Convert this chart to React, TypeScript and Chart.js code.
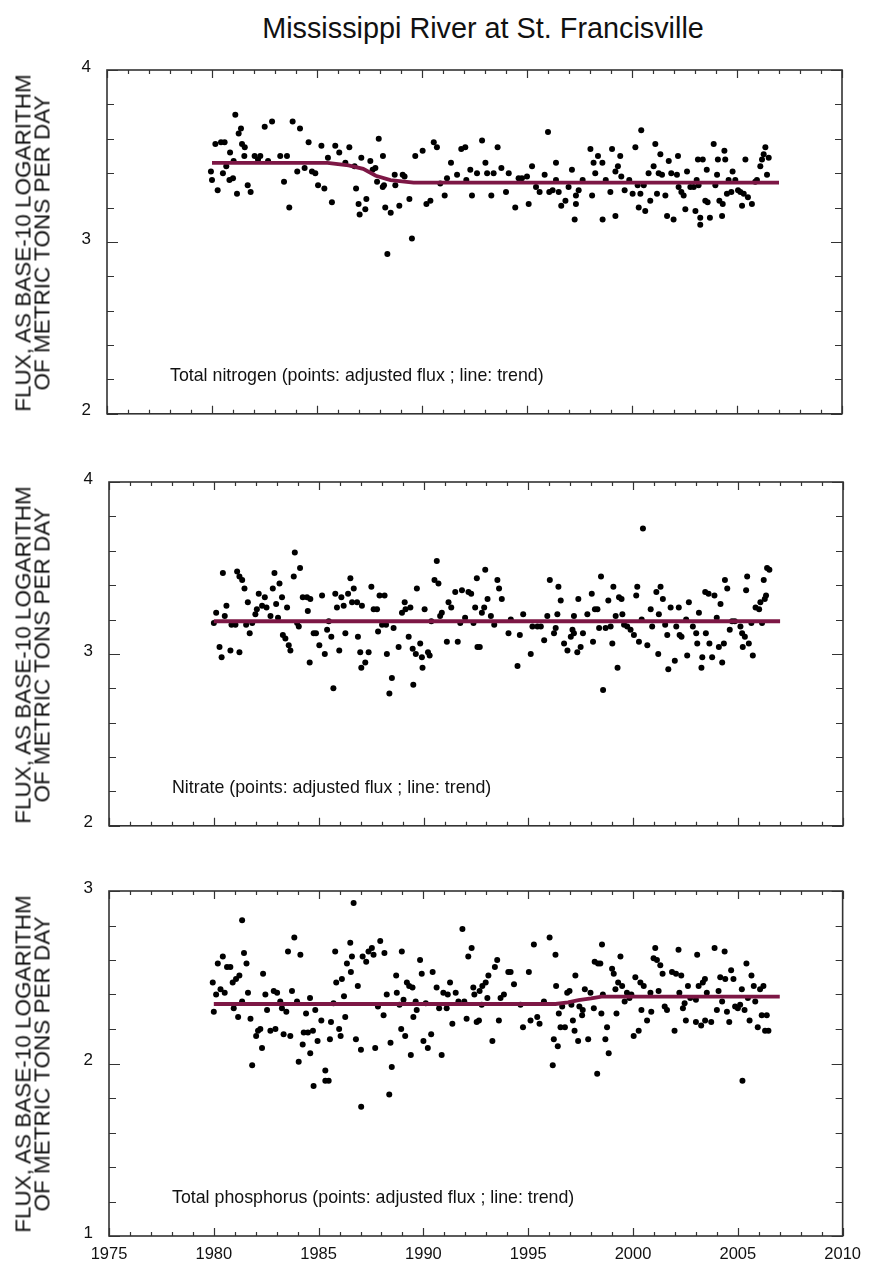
import React, { useEffect, useRef } from 'react';
import { Chart, registerables } from 'chart.js';

Chart.register(...registerables);

const TITLE = 'Mississippi River at St. Francisville';
const Y_TITLE = ['FLUX, AS BASE-10 LOGARITHM', 'OF METRIC TONS PER DAY'];
const X_MIN = 1975;
const X_MAX = 2010;
const X_STEP = 5;

const TN_NOTE = 'Total nitrogen (points: adjusted flux ; line: trend)';
const NO3_NOTE = 'Nitrate (points: adjusted flux ; line: trend)';
const TP_NOTE = 'Total phosphorus (points: adjusted flux ; line: trend)';

// ---------- Total nitrogen ----------
const tnYears = [
  1979.95, 1980.0, 1980.16, 1980.27, 1980.43, 1980.52, 1980.6, 1980.68, 1980.83, 1980.86,
  1981.0, 1981.03, 1981.11, 1981.19, 1981.27, 1981.38, 1981.43, 1981.54, 1981.56, 1981.7,
  1981.84, 1982.03, 1982.19, 1982.3, 1982.51, 1982.67, 1982.86, 1983.25, 1983.43, 1983.57,
  1983.68, 1983.84, 1984.06, 1984.19, 1984.41, 1984.6, 1984.76, 1984.92, 1985.05, 1985.21,
  1985.35, 1985.52, 1985.71, 1985.87, 1986.06, 1986.35, 1986.54, 1986.79, 1986.86, 1986.98,
  1987.03, 1987.11, 1987.3, 1987.35, 1987.54, 1987.65, 1987.78, 1987.86, 1987.94, 1988.13,
  1988.14, 1988.19, 1988.25, 1988.35, 1988.51, 1988.7, 1988.73, 1988.92, 1989.08, 1989.17,
  1989.4, 1989.52, 1989.68, 1990.03, 1990.21, 1990.4, 1990.56, 1990.71, 1990.87, 1991.08,
  1991.19, 1991.38, 1991.67, 1991.87, 1992.06, 1992.11, 1992.3, 1992.38, 1992.62, 1992.86,
  1993.02, 1993.1, 1993.3, 1993.41, 1993.6, 1993.78, 1994.0, 1994.13, 1994.44, 1994.6,
  1994.76, 1995.0, 1995.08, 1995.24, 1995.43, 1995.6, 1995.84, 1996.0, 1996.06, 1996.22,
  1996.38, 1996.38, 1996.51, 1996.63, 1996.83, 1996.98, 1997.14, 1997.27, 1997.33, 1997.33,
  1997.46, 1997.65, 1998.02, 1998.1, 1998.17, 1998.25, 1998.38, 1998.59, 1998.6, 1998.75,
  1998.97, 1999.05, 1999.21, 1999.21, 1999.33, 1999.44, 1999.49, 1999.65, 1999.87, 2000.03,
  2000.16, 2000.27, 2000.32, 2000.4, 2000.44, 2000.56, 2000.63, 2000.79, 2000.87, 2001.03,
  2001.11, 2001.19, 2001.27, 2001.35, 2001.43, 2001.59, 2001.67, 2001.75, 2001.87, 2001.98,
  2002.14, 2002.19, 2002.22, 2002.35, 2002.46, 2002.54, 2002.62, 2002.78, 2002.94, 2003.02,
  2003.08, 2003.14, 2003.17, 2003.25, 2003.25, 2003.37, 2003.49, 2003.56, 2003.6, 2003.71,
  2003.89, 2003.97, 2004.05, 2004.09, 2004.16, 2004.29, 2004.32, 2004.4, 2004.44, 2004.52,
  2004.6, 2004.73, 2004.79, 2004.92, 2005.05, 2005.16, 2005.24, 2005.32, 2005.4, 2005.52,
  2005.71, 2005.87, 2005.95, 2006.11, 2006.19, 2006.27, 2006.35, 2006.43, 2006.51,
];
const tnValues = [
  3.41, 3.36, 3.57, 3.30, 3.58, 3.40, 3.58, 3.44, 3.36, 3.52,
  3.37, 3.47, 3.74, 3.28, 3.63, 3.66, 3.57, 3.50, 3.55, 3.33,
  3.29, 3.50, 3.48, 3.50, 3.67, 3.47, 3.70, 3.50, 3.35, 3.50,
  3.20, 3.70, 3.41, 3.66, 3.43, 3.58, 3.41, 3.40, 3.33, 3.56,
  3.31, 3.49, 3.23, 3.56, 3.52, 3.46, 3.55, 3.44, 3.31, 3.22,
  3.16, 3.49, 3.19, 3.25, 3.47, 3.42, 3.43, 3.35, 3.60, 3.32,
  3.50, 3.33, 3.20, 2.93, 3.17, 3.39, 3.33, 3.21, 3.39, 3.38,
  3.25, 3.02, 3.50, 3.53, 3.22, 3.24, 3.58, 3.55, 3.34, 3.27,
  3.37, 3.46, 3.39, 3.54, 3.55, 3.36, 3.42, 3.27, 3.40, 3.59,
  3.46, 3.40, 3.27, 3.40, 3.55, 3.43, 3.29, 3.40, 3.20, 3.37,
  3.37, 3.38, 3.22, 3.44, 3.32, 3.29, 3.39, 3.64, 3.29, 3.30,
  3.46, 3.36, 3.29, 3.21, 3.24, 3.32, 3.42, 3.13, 3.27, 3.22,
  3.30, 3.36, 3.54, 3.27, 3.46, 3.40, 3.50, 3.46, 3.13, 3.36,
  3.29, 3.54, 3.15, 3.41, 3.44, 3.50, 3.38, 3.30, 3.36, 3.28,
  3.55, 3.33, 3.20, 3.28, 3.65, 3.33, 3.18, 3.40, 3.24, 3.44,
  3.57, 3.28, 3.40, 3.51, 3.39, 3.27, 3.15, 3.47, 3.40, 3.13,
  3.39, 3.50, 3.32, 3.29, 3.27, 3.19, 3.41, 3.32, 3.32, 3.18,
  3.36, 3.48, 3.33, 3.14, 3.10, 3.48, 3.24, 3.42, 3.23, 3.14,
  3.57, 3.33, 3.39, 3.48, 3.24, 3.15, 3.22, 3.53, 3.48, 3.28,
  3.36, 3.29, 3.41, 3.36, 3.30, 3.29, 3.21, 3.28, 3.48, 3.26,
  3.22, 3.35, 3.36, 3.44, 3.48, 3.51, 3.55, 3.39, 3.49,
];
const tnTrendYears = [1980, 1985.5, 1986.5, 1987.2, 1987.8, 1988.5, 1989.6, 2007];
const tnTrendValues = [3.46, 3.46, 3.445, 3.425, 3.385, 3.36, 3.345, 3.345];

// ---------- Nitrate ----------
const no3Years = [
  1980.0, 1980.11, 1980.27, 1980.37, 1980.43, 1980.52, 1980.6, 1980.79, 1980.84, 1981.03,
  1981.11, 1981.22, 1981.22, 1981.35, 1981.46, 1981.54, 1981.62, 1981.71, 1981.83, 1981.98,
  1982.05, 1982.14, 1982.3, 1982.43, 1982.51, 1982.7, 1982.81, 1982.89, 1982.97, 1983.06,
  1983.13, 1983.25, 1983.29, 1983.41, 1983.49, 1983.57, 1983.65, 1983.81, 1983.86, 1983.97,
  1984.05, 1984.11, 1984.24, 1984.44, 1984.48, 1984.57, 1984.6, 1984.76, 1984.87, 1985.03,
  1985.16, 1985.29, 1985.4, 1985.48, 1985.6, 1985.7, 1985.79, 1985.87, 1985.98, 1986.08,
  1986.19, 1986.27, 1986.4, 1986.51, 1986.59, 1986.67, 1986.83, 1986.87, 1986.98, 1987.03,
  1987.06, 1987.22, 1987.38, 1987.51, 1987.62, 1987.78, 1987.83, 1987.9, 1988.02, 1988.14,
  1988.21, 1988.25, 1988.37, 1988.49, 1988.57, 1988.81, 1988.97, 1989.1, 1989.14, 1989.29,
  1989.37, 1989.48, 1989.51, 1989.63, 1989.68, 1989.84, 1989.92, 1989.95, 1990.05, 1990.21,
  1990.29, 1990.37, 1990.52, 1990.63, 1990.71, 1990.79, 1990.87, 1991.11, 1991.19, 1991.32,
  1991.51, 1991.63, 1991.75, 1991.83, 1991.98, 1992.14, 1992.27, 1992.38, 1992.46, 1992.54,
  1992.57, 1992.68, 1992.78, 1992.89, 1992.94, 1993.05, 1993.21, 1993.37, 1993.52, 1993.6,
  1993.73, 1994.05, 1994.16, 1994.48, 1994.59, 1994.75, 1995.11, 1995.19, 1995.43, 1995.59,
  1995.75, 1995.9, 1996.02, 1996.22, 1996.3, 1996.38, 1996.43, 1996.54, 1996.7, 1996.86,
  1997.02, 1997.1, 1997.17, 1997.17, 1997.33, 1997.38, 1997.49, 1997.6, 1997.81, 1998.02,
  1998.08, 1998.17, 1998.29, 1998.37, 1998.46, 1998.56, 1998.68, 1998.81, 1998.92, 1999.0,
  1999.05, 1999.16, 1999.25, 1999.32, 1999.44, 1999.48, 1999.56, 1999.71, 1999.87, 2000.03,
  2000.14, 2000.19, 2000.27, 2000.4, 2000.46, 2000.67, 2000.83, 2000.9, 2001.1, 2001.19,
  2001.22, 2001.3, 2001.41, 2001.52, 2001.62, 2001.67, 2001.78, 2001.98, 2002.05, 2002.17,
  2002.21, 2002.3, 2002.52, 2002.57, 2002.65, 2002.84, 2003.0, 2003.05, 2003.13, 2003.25,
  2003.29, 2003.43, 2003.46, 2003.59, 2003.63, 2003.76, 2003.87, 2003.98, 2004.08, 2004.16,
  2004.24, 2004.32, 2004.37, 2004.48, 2004.6, 2004.71, 2004.84, 2005.11, 2005.19, 2005.22,
  2005.32, 2005.38, 2005.43, 2005.51, 2005.63, 2005.7, 2005.83, 2006.0, 2006.06, 2006.14,
  2006.22, 2006.27, 2006.33, 2006.38, 2006.49,
];
const no3Values = [
  3.18, 3.24, 3.04, 2.98, 3.47, 3.22, 3.28, 3.02, 3.17, 3.17,
  3.48, 3.45, 3.01, 3.43, 3.38, 3.17, 3.30, 3.12, 3.18, 3.23,
  3.26, 3.35, 3.28, 3.33, 3.27, 3.22, 3.38, 3.47, 3.29, 3.21,
  3.41, 3.33, 3.11, 3.09, 3.27, 3.05, 3.02, 3.45, 3.59, 3.18,
  3.16, 3.50, 3.33, 3.33, 3.25, 2.95, 3.32, 3.12, 3.12, 3.05,
  3.34, 3.00, 3.14, 3.19, 3.10, 2.80, 3.35, 3.27, 3.02, 3.33,
  3.28, 3.12, 3.35, 3.44, 3.30, 3.38, 3.30, 3.10, 3.01, 2.92,
  3.28, 2.95, 3.01, 3.39, 3.26, 3.26, 3.13, 3.34, 3.17, 3.34,
  3.17, 3.00, 2.77, 2.86, 3.15, 3.04, 3.24, 3.30, 3.26, 3.10,
  3.27, 3.03, 2.82, 3.00, 3.38, 3.06, 2.98, 2.92, 3.26, 3.01,
  2.99, 3.19, 3.43, 3.54, 3.41, 3.22, 3.24, 3.07, 3.30, 3.27,
  3.36, 3.07, 3.18, 3.37, 3.21, 3.36, 3.35, 3.18, 3.27, 3.44,
  3.04, 3.04, 3.24, 3.27, 3.49, 3.32, 3.22, 3.17, 3.43, 3.38,
  3.32, 3.12, 3.20, 2.93, 3.11, 3.23, 3.00, 3.16, 3.16, 3.16,
  3.08, 3.22, 3.43, 3.12, 3.15, 3.23, 3.39, 3.31, 3.06, 3.02,
  3.10, 3.14, 3.22, 3.12, 3.01, 3.32, 3.04, 3.12, 3.23, 3.35,
  3.07, 3.26, 3.26, 3.15, 3.45, 2.79, 3.15, 3.31, 3.16, 3.06,
  3.39, 3.22, 2.92, 3.33, 3.32, 3.23, 3.17, 3.16, 3.14, 3.11,
  3.34, 3.39, 3.07, 3.20, 3.73, 3.05, 3.26, 3.16, 3.36, 3.00,
  3.23, 3.39, 3.32, 3.17, 3.11, 2.91, 3.27, 2.96, 3.16, 3.27,
  3.11, 3.10, 3.20, 2.99, 3.30, 3.16, 3.12, 3.06, 3.24, 2.92,
  2.98, 3.36, 3.12, 3.35, 3.06, 2.98, 3.34, 3.21, 3.04, 3.29,
  2.95, 3.06, 3.43, 3.38, 3.14, 3.19, 3.19, 3.16, 3.12, 3.04,
  3.10, 3.37, 3.45, 3.06, 3.18, 2.99, 3.27, 3.26, 3.30, 3.18,
  3.43, 3.32, 3.34, 3.50, 3.49,
];
const no3TrendYears = [1980, 2007];
const no3TrendValues = [3.19, 3.19];

// ---------- Total phosphorus ----------
const tpYears = [
  1979.95, 1980.0, 1980.11, 1980.19, 1980.32, 1980.43, 1980.52, 1980.63, 1980.79, 1980.9,
  1980.95, 1981.06, 1981.16, 1981.22, 1981.35, 1981.35, 1981.44, 1981.56, 1981.63, 1981.75,
  1981.83, 1982.02, 1982.11, 1982.22, 1982.3, 1982.35, 1982.46, 1982.54, 1982.7, 1982.86,
  1982.94, 1983.02, 1983.17, 1983.25, 1983.33, 1983.46, 1983.54, 1983.65, 1983.73, 1983.84,
  1983.97, 1984.05, 1984.13, 1984.24, 1984.29, 1984.4, 1984.49, 1984.59, 1984.6, 1984.73,
  1984.76, 1984.84, 1984.95, 1985.13, 1985.32, 1985.32, 1985.48, 1985.54, 1985.59, 1985.71,
  1985.79, 1985.84, 1985.98, 1986.05, 1986.11, 1986.21, 1986.27, 1986.35, 1986.51, 1986.54,
  1986.59, 1986.67, 1986.78, 1986.87, 1987.02, 1987.03, 1987.1, 1987.27, 1987.38, 1987.54,
  1987.62, 1987.7, 1987.83, 1987.94, 1988.1, 1988.14, 1988.25, 1988.37, 1988.43, 1988.49,
  1988.7, 1988.73, 1988.86, 1988.94, 1988.97, 1989.05, 1989.13, 1989.21, 1989.32, 1989.4,
  1989.48, 1989.52, 1989.63, 1989.68, 1989.84, 1989.92, 1990.0, 1990.11, 1990.21, 1990.37,
  1990.44, 1990.63, 1990.75, 1990.87, 1990.95, 1991.11, 1991.16, 1991.27, 1991.38, 1991.54,
  1991.67, 1991.86, 1991.95, 1992.06, 1992.14, 1992.3, 1992.38, 1992.43, 1992.54, 1992.65,
  1992.68, 1992.78, 1992.81, 1992.97, 1993.05, 1993.1, 1993.29, 1993.41, 1993.52, 1993.6,
  1993.68, 1993.84, 1994.05, 1994.16, 1994.32, 1994.63, 1994.75, 1995.03, 1995.11, 1995.27,
  1995.43, 1995.54, 1995.75, 1996.02, 1996.17, 1996.22, 1996.3, 1996.33, 1996.41, 1996.46,
  1996.54, 1996.62, 1996.75, 1996.86, 1996.97, 1997.06, 1997.13, 1997.21, 1997.25, 1997.38,
  1997.44, 1997.57, 1997.6, 1997.7, 1997.86, 1997.97, 1998.13, 1998.17, 1998.29, 1998.33,
  1998.44, 1998.49, 1998.52, 1998.56, 1998.68, 1998.76, 1998.84, 1999.0, 1999.08, 1999.16,
  1999.21, 1999.29, 1999.4, 1999.48, 1999.6, 1999.71, 1999.83, 1999.92, 2000.03, 2000.11,
  2000.27, 2000.35, 2000.4, 2000.51, 2000.67, 2000.83, 2000.87, 2000.98, 2001.06, 2001.14,
  2001.22, 2001.3, 2001.41, 2001.51, 2001.62, 2001.86, 2001.98, 2002.05, 2002.17, 2002.21,
  2002.3, 2002.38, 2002.46, 2002.52, 2002.62, 2002.73, 2003.0, 2003.0, 2003.06, 2003.13,
  2003.25, 2003.33, 2003.43, 2003.44, 2003.52, 2003.73, 2003.89, 2004.0, 2004.08, 2004.16,
  2004.25, 2004.37, 2004.4, 2004.48, 2004.59, 2004.68, 2004.79, 2004.87, 2005.0, 2005.11,
  2005.19, 2005.22, 2005.32, 2005.41, 2005.48, 2005.56, 2005.65, 2005.76, 2005.83, 2005.95,
  2006.06, 2006.14, 2006.22, 2006.3, 2006.38, 2006.46,
];
const tpValues = [
  2.47, 2.30, 2.40, 2.58, 2.43, 2.62, 2.41, 2.56, 2.56, 2.47,
  2.32, 2.49, 2.27, 2.51, 2.36, 2.83, 2.64, 2.58, 2.41, 2.26,
  1.99, 2.16, 2.19, 2.20, 2.09, 2.52, 2.40, 2.31, 2.19, 2.42,
  2.20, 2.41, 2.36, 2.32, 2.17, 2.30, 2.65, 2.16, 2.42, 2.73,
  2.36, 2.01, 2.63, 2.11, 2.18, 2.29, 2.18, 2.38, 2.06, 2.19,
  1.87, 2.31, 2.13, 2.25, 1.96, 1.90, 1.90, 2.14, 2.24, 2.35,
  2.65, 2.47, 2.20, 2.16, 2.49, 2.39, 2.27, 2.58, 2.70, 2.53,
  2.62, 2.93, 2.14, 2.45, 2.08, 1.75, 2.62, 2.59, 2.65, 2.67,
  2.63, 2.09, 2.33, 2.71, 2.28, 2.64, 2.40, 1.82, 2.12, 1.98,
  2.51, 2.41, 2.34, 2.20, 2.65, 2.37, 2.16, 2.47, 2.45, 2.05,
  2.44, 2.27, 2.36, 2.31, 2.60, 2.52, 2.13, 2.35, 2.09, 2.17,
  2.53, 2.44, 2.32, 2.05, 2.41, 2.32, 2.40, 2.47, 2.23, 2.41,
  2.36, 2.78, 2.36, 2.26, 2.62, 2.67, 2.44, 2.40, 2.24, 2.25,
  2.42, 2.34, 2.45, 2.47, 2.38, 2.51, 2.13, 2.56, 2.60, 2.25,
  2.38, 2.40, 2.53, 2.53, 2.46, 2.34, 2.21, 2.53, 2.25, 2.69,
  2.27, 2.23, 2.36, 2.73, 1.99, 2.14, 2.63, 2.45, 2.10, 2.29,
  2.21, 2.33, 2.21, 2.41, 2.42, 2.34, 2.25, 2.19, 2.51, 2.13,
  2.33, 2.28, 2.31, 2.43, 2.14, 2.41, 2.32, 2.59, 1.94, 2.58,
  2.58, 2.29, 2.69, 2.40, 2.14, 2.21, 2.06, 2.55, 2.52, 2.43,
  2.29, 2.47, 2.62, 2.45, 2.36, 2.41, 2.38, 2.40, 2.16, 2.50,
  2.19, 2.47, 2.31, 2.45, 2.25, 2.41, 2.30, 2.61, 2.67, 2.60,
  2.42, 2.57, 2.52, 2.33, 2.31, 2.53, 2.19, 2.52, 2.66, 2.41,
  2.51, 2.32, 2.35, 2.25, 2.45, 2.38, 2.37, 2.24, 2.63, 2.45,
  2.22, 2.47, 2.49, 2.25, 2.41, 2.24, 2.67, 2.31, 2.42, 2.50,
  2.36, 2.65, 2.49, 2.30, 2.24, 2.54, 2.49, 2.33, 2.32, 2.34,
  2.43, 1.90, 2.31, 2.58, 2.38, 2.25, 2.51, 2.45, 2.36, 2.21,
  2.43, 2.28, 2.45, 2.19, 2.28, 2.19,
];
const tpTrendYears = [1980, 1996.3, 1996.9, 1997.4, 1998.0, 1998.5, 2007];
const tpTrendValues = [2.345, 2.345, 2.355, 2.368, 2.378, 2.388, 2.388];

const FONT = '"Liberation Sans", Arial, Helvetica, sans-serif';
const TEXT_COLOR = '#111';
const AXIS_COLOR = '#333';
const TREND_COLOR = '#7d1745';

const zip = (xs: number[], ys: number[]) => xs.map((x, i) => ({ x, y: ys[i] }));

const framePlugin = {
  id: 'frame',
  afterDatasetsDraw(chart: any, _args: any, opts: any) {
    const { ctx, chartArea: a, scales } = chart;
    const x = scales.x;
    const y = scales.y;
    ctx.save();
    ctx.strokeStyle = AXIS_COLOR;
    ctx.lineWidth = 1.6;
    ctx.strokeRect(a.left, a.top, a.right - a.left, a.bottom - a.top);
    ctx.lineWidth = 1.2;
    ctx.beginPath();
    for (let yr = X_MIN; yr <= X_MAX; yr++) {
      const px = Math.round(x.getPixelForValue(yr)) + 0.5;
      const len = yr % X_STEP === 0 ? 8 : 4;
      ctx.moveTo(px, a.bottom);
      ctx.lineTo(px, a.bottom - len);
      ctx.moveTo(px, a.top);
      ctx.lineTo(px, a.top + len);
    }
    const n = Math.round((y.max - y.min) / 0.2);
    for (let i = 0; i <= n; i++) {
      const v = y.min + i * 0.2;
      const py = Math.round(y.getPixelForValue(v)) + 0.5;
      const len = i % 5 === 0 ? 11 : 7;
      ctx.moveTo(a.left, py);
      ctx.lineTo(a.left + len, py);
      ctx.moveTo(a.right, py);
      ctx.lineTo(a.right - len, py);
    }
    ctx.stroke();
    if (opts && opts.note) {
      ctx.font = `17.8px ${FONT}`;
      ctx.fillStyle = TEXT_COLOR;
      ctx.textBaseline = 'middle';
      ctx.textAlign = 'left';
      ctx.fillText(opts.note, a.left + 63, a.bottom - 38);
    }
    ctx.restore();
  },
};

type PanelProps = {
  years: number[];
  values: number[];
  trendYears: number[];
  trendValues: number[];
  yMin: number;
  yMax: number;
  note: string;
  top: number;
  height: number;
  padTop: number;
  left: number;
  right: number;
  xAxisHeight: number;
  showX: boolean;
};

function Panel(p: PanelProps) {
  const ref = useRef<HTMLCanvasElement | null>(null);
  useEffect(() => {
    if (!ref.current) return;
    const chart = new Chart(ref.current, {
      type: 'scatter',
      data: {
        datasets: [
          {
            data: zip(p.trendYears, p.trendValues),
            showLine: true,
            borderColor: TREND_COLOR,
            borderWidth: 3.8,
            pointRadius: 0,
            order: 0,
          } as any,
          {
            data: zip(p.years, p.values),
            pointRadius: 3,
            pointBackgroundColor: '#000',
            pointBorderWidth: 0,
            borderWidth: 0,
            order: 1,
          } as any,
        ],
      },
      options: {
        responsive: false,
        animation: false,
        events: [],
        layout: { padding: { top: p.padTop, right: 870 - p.right, left: 0, bottom: 0 } },
        plugins: {
          legend: { display: false },
          tooltip: { enabled: false },
          title: { display: false },
          frame: { note: p.note },
        } as any,
        scales: {
          x: {
            type: 'linear',
            min: X_MIN,
            max: X_MAX,
            grid: { display: false, drawTicks: false },
            border: { display: false },
            ticks: {
              display: p.showX,
              stepSize: X_STEP,
              padding: 9,
              color: TEXT_COLOR,
              font: { family: FONT, size: 16.5 },
              maxRotation: 0,
              callback: (v: any) => String(v),
            },
            afterFit: (s: any) => {
              s.height = p.xAxisHeight;
            },
          },
          y: {
            type: 'linear',
            min: p.yMin,
            max: p.yMax,
            grid: { display: false, drawTicks: false },
            border: { display: false },
            ticks: {
              stepSize: 1,
              padding: 16,
              labelOffset: -3,
              color: TEXT_COLOR,
              font: { family: FONT, size: 17 },
              callback: (v: any) => String(v),
            },
            afterFit: (s: any) => {
              s.width = p.left;
            },
          },
        },
      },
      plugins: [framePlugin],
    });
    return () => chart.destroy();
  }, []);
  const plotTop = p.top + p.padTop;
  const plotBottom = p.top + p.height - p.xAxisHeight;
  const centerY = (plotTop + plotBottom) / 2;
  const labelW = plotBottom - plotTop;
  return (
    <>
      <canvas
        ref={ref}
        width={870}
        height={p.height}
        style={{ position: 'absolute', left: 0, top: p.top, width: 870, height: p.height }}
      />
      <div
        style={{
          position: 'absolute',
          left: 32 - labelW / 2,
          top: centerY - 19,
          width: labelW,
          height: 38,
          transform: 'rotate(-90deg)',
          transformOrigin: '50% 50%',
          textAlign: 'center',
          fontFamily: FONT,
          fontSize: 22.5,
          lineHeight: '19px',
          color: TEXT_COLOR,
          whiteSpace: 'nowrap',
        }}
      >
        <div>{Y_TITLE[0]}</div>
        <div>{Y_TITLE[1]}</div>
      </div>
    </>
  );
}

export default function App() {
  return (
    <div
      style={{
        position: 'absolute',
        left: 0,
        top: 0,
        width: 870,
        height: 1268,
        background: '#fff',
        overflow: 'hidden',
      }}
    >
      <div
        style={{
          position: 'absolute',
          left: 96,
          top: 12,
          width: 774,
          textAlign: 'center',
          fontFamily: FONT,
          fontSize: 28.8,
          lineHeight: '32px',
          color: TEXT_COLOR,
        }}
      >
        {TITLE}
      </div>
      <Panel
        years={tnYears}
        values={tnValues}
        trendYears={tnTrendYears}
        trendValues={tnTrendValues}
        yMin={2}
        yMax={4}
        note={TN_NOTE}
        top={40}
        height={400}
        padTop={30}
        left={107}
        right={842}
        xAxisHeight={25}
        showX={false}
      />
      <Panel
        years={no3Years}
        values={no3Values}
        trendYears={no3TrendYears}
        trendValues={no3TrendValues}
        yMin={2}
        yMax={4}
        note={NO3_NOTE}
        top={452}
        height={400}
        padTop={30}
        left={109}
        right={843}
        xAxisHeight={25}
        showX={false}
      />
      <Panel
        years={tpYears}
        values={tpValues}
        trendYears={tpTrendYears}
        trendValues={tpTrendValues}
        yMin={1}
        yMax={3}
        note={TP_NOTE}
        top={861}
        height={407}
        padTop={30}
        left={109}
        right={843}
        xAxisHeight={32}
        showX={true}
      />
    </div>
  );
}
